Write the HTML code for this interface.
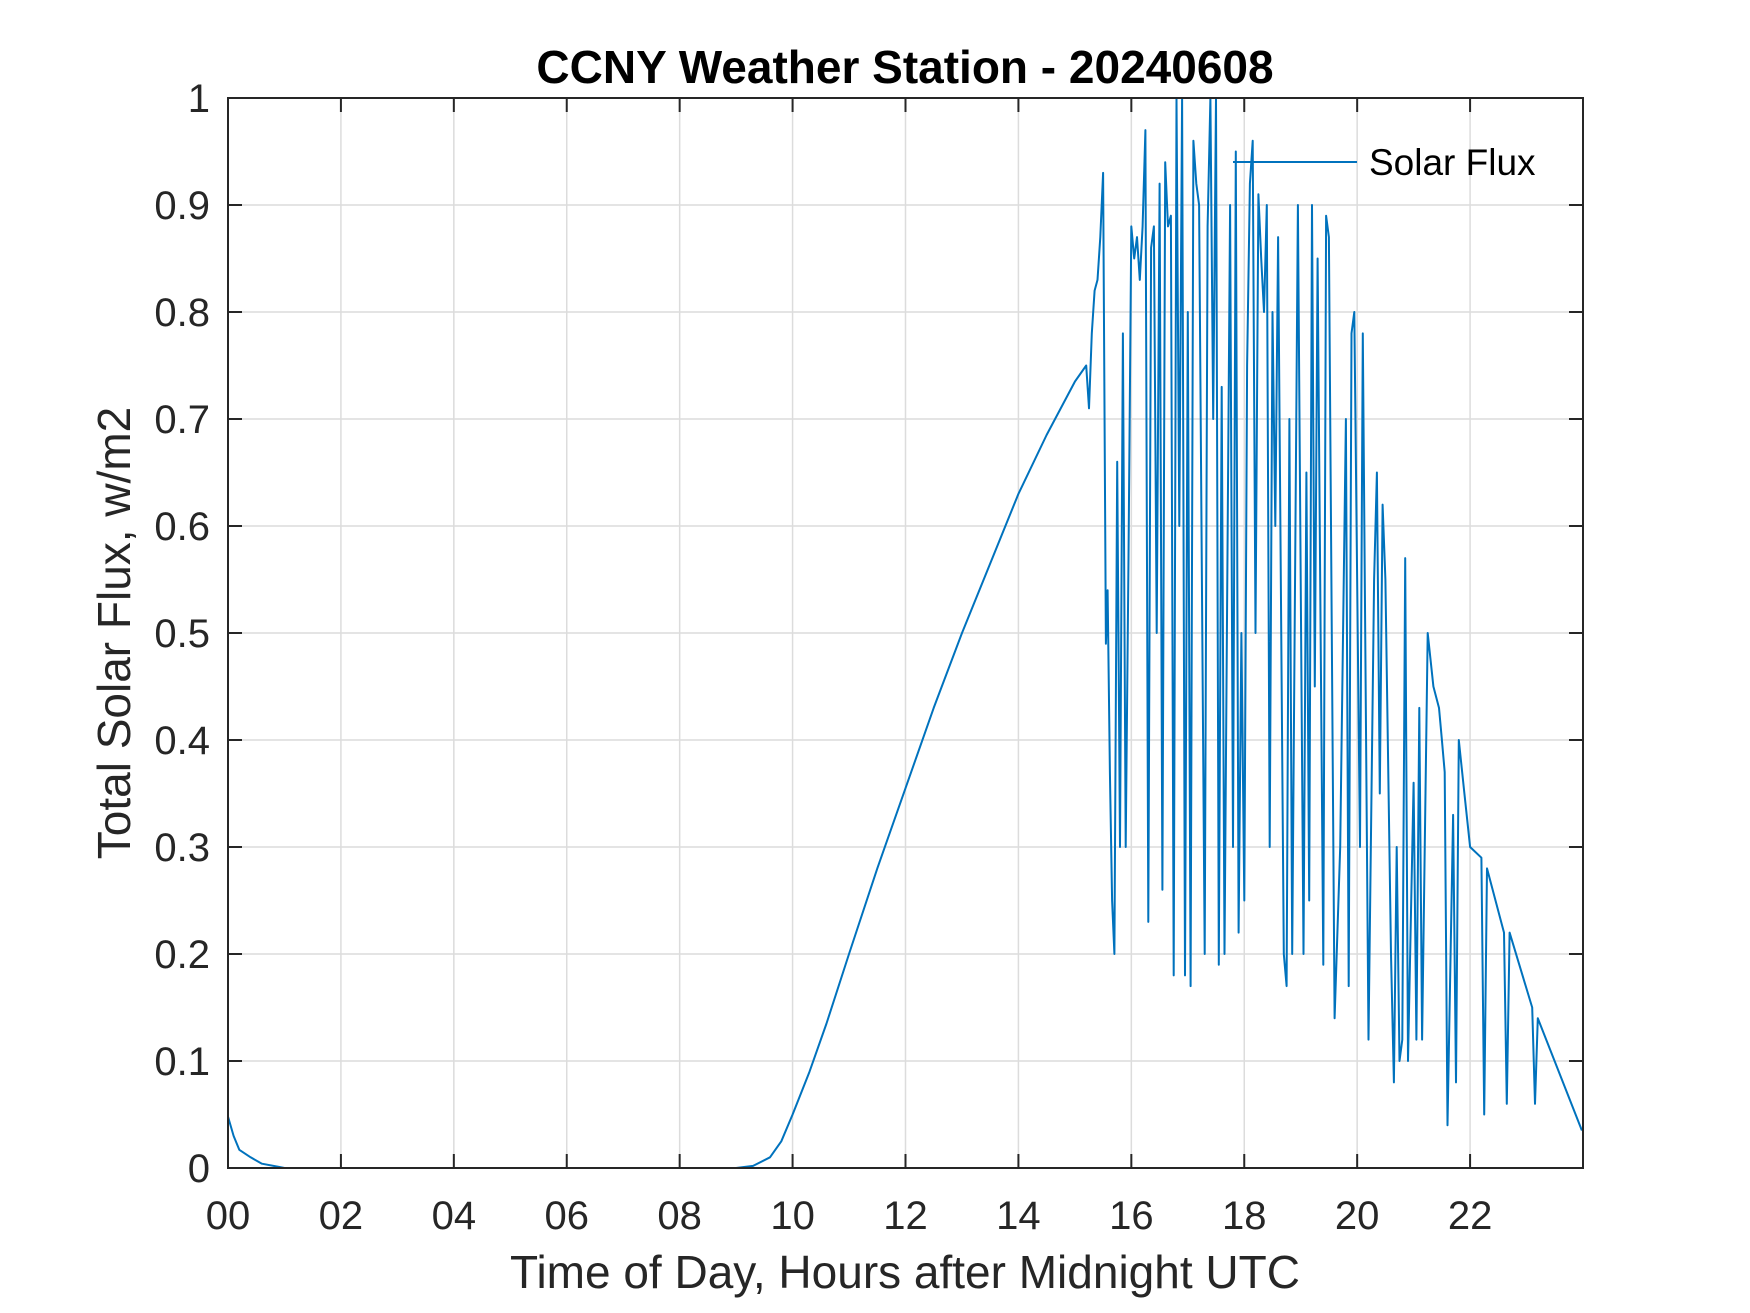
<!DOCTYPE html>
<html><head><meta charset="utf-8"><style>
html,body{margin:0;padding:0;background:#fff}
svg{display:block}
text{font-family:"Liberation Sans",Arial,sans-serif;fill:#262626}
</style></head><body>
<svg id="chart" width="1750" height="1313" viewBox="0 0 1750 1313" xmlns="http://www.w3.org/2000/svg">
<rect width="1750" height="1313" fill="#fff"/>
<g id="grid"></g>
<g id="ticks"></g>
<g id="labels"></g>
<path id="series" fill="none" stroke="#0072BD" stroke-width="2" stroke-linejoin="round"/>
<rect x="228" y="98" width="1355" height="1070" fill="none" stroke="#262626" stroke-width="2"/>
<text x="905" y="83" text-anchor="middle" font-size="46" font-weight="bold" style="fill:#000">CCNY Weather Station - 20240608</text>
<text x="905" y="1288" text-anchor="middle" font-size="46">Time of Day, Hours after Midnight UTC</text>
<text transform="translate(130,633) rotate(-90)" text-anchor="middle" font-size="46">Total Solar Flux, w/m2</text>
<g>
<line x1="1233" y1="162" x2="1357" y2="162" stroke="#0072BD" stroke-width="2"/>
<text x="1369" y="175" font-size="37" style="fill:#000">Solar Flux</text>
</g>
</svg>
<script>
const xTicks=[0,2,4,6,8,10,12,14,16,18,20,22];
const xTickLabels=["00","02","04","06","08","10","12","14","16","18","20","22"];
const yTicks=[0,0.1,0.2,0.3,0.4,0.5,0.6,0.7,0.8,0.9,1];
const yTickLabels=["0","0.1","0.2","0.3","0.4","0.5","0.6","0.7","0.8","0.9","1"];
const hours=[0,0.1,0.2,0.4,0.6,0.9,1.0,9.0,9.3,9.6,9.8,10.0,10.3,10.6,11,11.5,12,12.5,13,13.5,14,14.5,15,15.2,15.25,15.3,15.35,15.4,15.45,15.5,
15.55,15.58,15.62,15.66,15.7,15.75,15.8,15.85,15.9,15.95,16.0,16.05,16.1,16.15,16.2,16.25,16.3,16.35,16.4,16.45,16.5,16.55,16.6,16.65,16.7,16.75,16.8,16.85,16.9,16.95,17.0,17.05,17.1,17.15,17.2,17.3,17.35,17.4,17.45,17.5,17.55,17.6,17.65,17.75,17.8,17.85,17.9,17.95,18.0,18.05,18.1,18.15,18.2,18.25,18.3,18.35,18.4,18.45,18.5,18.55,18.6,18.7,18.75,18.8,18.85,18.95,19.05,19.1,19.15,19.2,19.25,19.3,19.4,19.45,19.5,19.6,19.7,19.8,19.85,19.9,19.95,20.05,20.1,20.2,20.3,20.35,20.4,20.45,20.5,20.6,20.65,20.7,20.75,20.8,20.85,20.9,21.0,21.05,21.1,21.15,21.25,21.35,21.45,21.5,21.55,21.6,21.7,21.75,21.8,21.9,22.0,22.2,22.25,22.3,22.6,22.65,22.7,23.1,23.15,23.2,23.98];
const flux=[0.048,0.03,0.017,0.01,0.004,0.001,0,0,0.002,0.01,0.025,0.05,0.09,0.135,0.2,0.28,0.355,0.43,0.5,0.565,0.63,0.685,0.735,0.75,0.71,0.78,0.82,0.83,0.87,0.93,
0.49,0.54,0.37,0.25,0.2,0.66,0.3,0.78,0.3,0.57,0.88,0.85,0.87,0.83,0.88,0.97,0.23,0.86,0.88,0.5,0.92,0.26,0.94,0.88,0.89,0.18,1.0,0.6,1.0,0.18,0.8,0.17,0.96,0.92,0.9,0.2,0.88,1.0,0.7,1.0,0.19,0.73,0.2,0.9,0.3,0.95,0.22,0.5,0.25,0.75,0.92,0.96,0.5,0.91,0.85,0.8,0.9,0.3,0.8,0.6,0.87,0.2,0.17,0.7,0.2,0.9,0.2,0.65,0.25,0.9,0.45,0.85,0.19,0.89,0.87,0.14,0.3,0.7,0.17,0.78,0.8,0.3,0.78,0.12,0.55,0.65,0.35,0.62,0.55,0.2,0.08,0.3,0.1,0.12,0.57,0.1,0.36,0.12,0.43,0.12,0.5,0.45,0.43,0.4,0.37,0.04,0.33,0.08,0.4,0.35,0.3,0.29,0.05,0.28,0.22,0.06,0.22,0.15,0.06,0.14,0.035];
const L=228,R=1583,T=98,B=1168;
const xs=h=>L+(h/24)*(R-L);
const ys=v=>B-(v/1)*(B-T);
const NS='http://www.w3.org/2000/svg';
const grid=document.getElementById('grid'),ticks=document.getElementById('ticks'),labels=document.getElementById('labels');
function mk(tag,attrs,parent){const e=document.createElementNS(NS,tag);for(const k in attrs)e.setAttribute(k,attrs[k]);parent.appendChild(e);return e;}
xTicks.forEach((t,i)=>{
  const x=xs(t);
  const g=mk('line',{x1:x,x2:x,y1:T,y2:B,stroke:'#dcdcdc','stroke-width':1.5},grid);
  
  
  const t1=mk('line',{x1:x,x2:x,y1:B,y2:B-14,stroke:'#262626','stroke-width':2},ticks);
  
  
  const t2=mk('line',{x1:x,x2:x,y1:T,y2:T+14,stroke:'#262626','stroke-width':2},ticks);
  
  
  const lb=mk('text',{x:x,y:1229,'text-anchor':'middle','font-size':40},labels);
  lb.textContent=xTickLabels[i];
  
  
});
yTicks.forEach((t,i)=>{
  const y=ys(t);
  const g=mk('line',{x1:L,x2:R,y1:y,y2:y,stroke:'#dcdcdc','stroke-width':1.5},grid);
  
  
  const t1=mk('line',{x1:L,x2:L+14,y1:y,y2:y,stroke:'#262626','stroke-width':2},ticks);
  
  
  const t2=mk('line',{x1:R,x2:R-14,y1:y,y2:y,stroke:'#262626','stroke-width':2},ticks);
  
  
  const lb=mk('text',{x:210,y:y+14,'text-anchor':'end','font-size':40},labels);
  lb.textContent=yTickLabels[i];
  
  
});
document.getElementById('series').setAttribute('d',hours.map((h,i)=>(i?'L':'M')+xs(h).toFixed(1)+','+ys(flux[i]).toFixed(1)).join(''));
</script>
</body></html>
